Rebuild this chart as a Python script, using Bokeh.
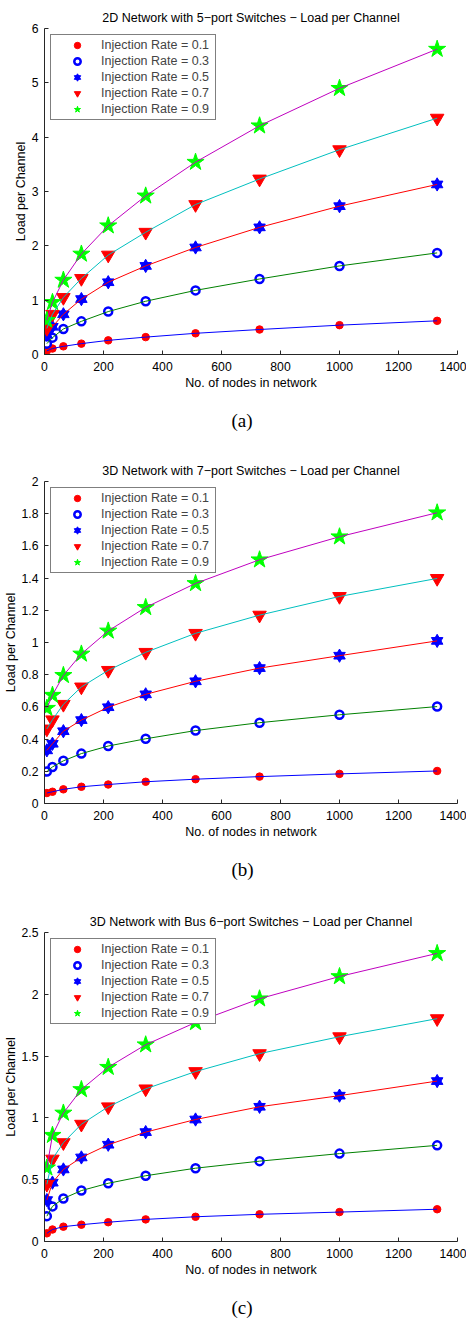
from bokeh.plotting import figure
from bokeh.layouts import column
from bokeh.models import FixedTicker, Legend, LegendItem, Title, Range1d
from bokeh.embed import file_html
from bokeh.resources import INLINE

# ---------------- data ----------------
nodes = [8, 27, 64, 125, 216, 343, 512, 729, 1000, 1331]
rate_labels = ["Injection Rate = 0.1", "Injection Rate = 0.3", "Injection Rate = 0.5",
               "Injection Rate = 0.7", "Injection Rate = 0.9"]
x_ticks = [0, 200, 400, 600, 800, 1000, 1200, 1400]

# (a) 2D network, 5-port switches
a_r01 = [0.067, 0.11, 0.15, 0.20, 0.26, 0.32, 0.39, 0.46, 0.54, 0.62]
a_r03 = [0.20, 0.31, 0.47, 0.61, 0.79, 0.98, 1.18, 1.39, 1.63, 1.87]
a_r05 = [0.36, 0.51, 0.74, 1.02, 1.33, 1.63, 1.97, 2.34, 2.73, 3.13]
a_r07 = [0.48, 0.74, 1.05, 1.40, 1.83, 2.25, 2.76, 3.23, 3.77, 4.35]
a_r09 = [0.63, 0.96, 1.37, 1.85, 2.37, 2.92, 3.54, 4.21, 4.90, 5.62]
a_yticks = [0, 1, 2, 3, 4, 5, 6]
a_ylabels = ["0", "1", "2", "3", "4", "5", "6"]

# (b) 3D network, 7-port switches
b_r01 = [0.065, 0.073, 0.088, 0.104, 0.118, 0.135, 0.151, 0.167, 0.184, 0.202]
b_r03 = [0.198, 0.227, 0.265, 0.310, 0.357, 0.402, 0.453, 0.502, 0.551, 0.602]
b_r05 = [0.330, 0.371, 0.449, 0.518, 0.598, 0.678, 0.759, 0.841, 0.918, 1.010]
b_r07 = [0.463, 0.520, 0.616, 0.724, 0.827, 0.939, 1.057, 1.170, 1.286, 1.398]
b_r09 = [0.592, 0.673, 0.796, 0.929, 1.072, 1.218, 1.367, 1.514, 1.657, 1.806]
b_yticks = [0, 0.2, 0.4, 0.6, 0.8, 1.0, 1.2, 1.4, 1.6, 1.8, 2.0]
b_ylabels = ["0", "0.2", "0.4", "0.6", "0.8", "1", "1.2", "1.4", "1.6", "1.8", "2"]

# (c) 3D network, bus 6-port switches
c_r01 = [0.066, 0.097, 0.120, 0.136, 0.156, 0.179, 0.200, 0.220, 0.238, 0.261]
c_r03 = [0.205, 0.284, 0.348, 0.412, 0.471, 0.532, 0.593, 0.650, 0.711, 0.778]
c_r05 = [0.335, 0.476, 0.583, 0.680, 0.783, 0.885, 0.987, 1.090, 1.180, 1.298]
c_r07 = [0.463, 0.667, 0.800, 0.949, 1.090, 1.235, 1.375, 1.520, 1.657, 1.803]
c_r09 = [0.596, 0.860, 1.040, 1.230, 1.410, 1.592, 1.772, 1.964, 2.144, 2.331]
c_yticks = [0, 0.5, 1.0, 1.5, 2.0, 2.5]
c_ylabels = ["0", "0.5", "1", "1.5", "2", "2.5"]

# ---------------- styles ----------------
FONT = "Liberation Sans"
line_colors = ["#0000ff", "#008000", "#ff0000", "#00bfbf", "#bf00bf"]
AX = "#262626"
FRAME_H = 326


def panel(title, caption, series, y_end, yticks, ylabels, height, top):
    p = figure(width=466, height=height, output_backend="svg", toolbar_location=None,
               x_range=Range1d(0, 1400), y_range=Range1d(0, y_end),
               min_border_left=43, min_border_right=9, min_border_top=top,
               min_border_bottom=height - top - FRAME_H)
    p.outline_line_color = None
    p.grid.grid_line_color = None
    p.background_fill_color = "white"
    p.border_fill_color = "white"

    p.title.text = title
    p.title.align = "center"
    p.title.text_font = FONT
    p.title.text_font_style = "normal"
    p.title.text_font_size = "12.5px"
    p.title.text_color = "black"
    p.title.standoff = 8

    p.xaxis.ticker = FixedTicker(ticks=x_ticks)
    p.yaxis.ticker = FixedTicker(ticks=yticks)
    p.yaxis.major_label_overrides = {t: l for t, l in zip(yticks, ylabels)}
    for ax in (p.xaxis[0], p.yaxis[0]):
        ax.axis_line_color = AX
        ax.major_tick_line_color = AX
        ax.major_tick_in = 4
        ax.major_tick_out = 0
        ax.minor_tick_line_color = None
        ax.major_label_text_font = FONT
        ax.major_label_text_font_size = "12.2px"
        ax.major_label_text_color = "black"
        ax.axis_label_text_font = FONT
        ax.axis_label_text_font_size = "12.5px"
        ax.axis_label_text_font_style = "normal"
        ax.axis_label_text_color = "black"
    p.xaxis.major_label_standoff = 7
    p.xaxis.axis_label_standoff = 2
    p.yaxis.major_label_standoff = 6
    p.yaxis.axis_label_standoff = 1
    p.xaxis.axis_label = "No. of nodes in network"
    p.yaxis.axis_label = "Load per Channel"

    r01, r03, r05, r07, r09 = series
    # markers
    m1 = p.scatter(nodes, r01, marker="circle", size=7.5, fill_color="#ff0000", line_color="#ff0000")
    m2 = p.scatter(nodes, r03, marker="circle", size=8, fill_color=None, line_color="#0000ff", line_width=2.5)
    m3a = p.scatter(nodes, r05, marker="triangle", size=11.5, fill_color="#0000ff", line_color="#0000ff")
    m3b = p.scatter(nodes, r05, marker="inverted_triangle", size=11.5, fill_color="#0000ff", line_color="#0000ff")
    m4 = p.scatter(nodes, r07, marker="inverted_triangle", size=13.5, fill_color="#ff0000", line_color="#ff0000")
    m5 = p.scatter(nodes, r09, marker="star", size=18, fill_color="#00ff00", line_color="#00ff00")
    # fit lines
    for vals, c in zip(series, line_colors):
        p.line(nodes, vals, line_color=c, line_width=1)

    items = [LegendItem(label=rate_labels[0], renderers=[m1]),
             LegendItem(label=rate_labels[1], renderers=[m2]),
             LegendItem(label=rate_labels[2], renderers=[m3a, m3b]),
             LegendItem(label=rate_labels[3], renderers=[m4]),
             LegendItem(label=rate_labels[4], renderers=[m5])]
    leg = Legend(items=items, location="top_left", margin=6, padding=2,
                 glyph_width=48, glyph_height=16, label_height=16, label_width=112,
                 label_standoff=0, spacing=0,
                 label_text_font=FONT, label_text_font_size="12.5px",
                 border_line_color="black", border_line_width=1.2,
                 background_fill_color="white", background_fill_alpha=1.0)
    p.add_layout(leg, "center")

    cap = Title(text=caption, align="left", text_font="Liberation Serif",
                text_font_size="19px", text_font_style="normal", text_color="black",
                standoff=31, offset=187)
    p.add_layout(cap, "below")
    return p


pa = panel("2D Network with 5\u2212port Switches \u2212 Load per Channel", "(a)",
           [a_r01, a_r03, a_r05, a_r07, a_r09], 6, a_yticks, a_ylabels, 457, 28)
pb = panel("3D Network with 7\u2212port Switches \u2212 Load per Channel", "(b)",
           [b_r01, b_r03, b_r05, b_r07, b_r09], 2, b_yticks, b_ylabels, 451, 20)
pc = panel("3D Network with Bus 6\u2212port Switches \u2212 Load per Channel", "(c)",
           [c_r01, c_r03, c_r05, c_r07, c_r09], 2.5, c_yticks, c_ylabels, 425, 20)

layout = column(pa, pb, pc, spacing=0)
open("out.html", "w").write(file_html(layout, INLINE))
